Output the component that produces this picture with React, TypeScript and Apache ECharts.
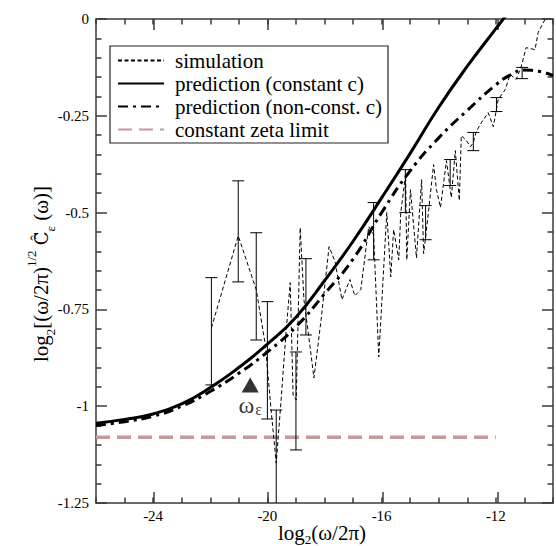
import React, { useEffect, useRef } from 'react';
import * as echarts from 'echarts';

const FONT = 'Liberation Serif';

// x-axis: log2(omega/2pi)
const xLabelValues = [-24, -20, -16, -12];

// simulation (dashed thin line)
const simX = [
  -21.96, -21.02, -20.39, -20.07, -19.87, -19.69, -19.52, -19.34, -19.2, -19.1,
  -18.99, -18.85, -18.72, -18.58, -18.37, -18.12, -17.84, -17.63, -17.39, -17.11,
  -16.94, -16.73, -16.45, -16.28, -16.1, -15.82, -15.68, -15.58, -15.4, -15.33,
  -15.16, -15.12, -14.99, -14.78, -14.6, -14.53, -14.39, -14.18, -14.08, -13.94,
  -13.73, -13.56, -13.42, -13.28, -13.21, -13.03, -12.89, -12.79, -12.69, -12.51,
  -12.27, -12.09, -11.92, -11.67, -11.5, -11.29, -11.12, -10.94, -10.63, -10.52,
  -10.28, -10.11,
];
const simY = [
  -0.798, -0.56, -0.699, -0.842, -1.01, -1.147, -0.984, -0.803, -0.681, -0.971,
  -0.984, -0.539, -0.725, -0.803, -0.927, -0.777, -0.588, -0.627, -0.725, -0.673,
  -0.715, -0.699, -0.536, -0.557, -0.873, -0.5, -0.666, -0.544, -0.622, -0.5,
  -0.402, -0.622, -0.441, -0.617, -0.415, -0.606, -0.518, -0.376, -0.441, -0.487,
  -0.366, -0.461, -0.34, -0.469, -0.301, -0.314, -0.33, -0.319, -0.291, -0.268,
  -0.242, -0.278, -0.208, -0.182, -0.143, -0.156, -0.125, -0.074, -0.079, -0.035,
  -0.001, 0.037,
];

// error bars of the simulation
const errX = [-21.96, -21.02, -20.39, -20.0, -19.69, -19.0, -18.65, -16.28, -15.17, -14.46, -13.6, -12.79, -11.98, -11.08];
const errLow = [-0.945, -0.679, -0.829, -1.033, -1.27, -1.113, -0.816, -0.622, -0.5, -0.57, -0.43, -0.34, -0.239, -0.154];
const errHigh = [-0.668, -0.418, -0.552, -0.73, -1.01, -0.86, -0.619, -0.474, -0.389, -0.482, -0.363, -0.293, -0.203, -0.125];

// prediction (constant c)
const constX = [-26, -25, -24, -23, -22, -21, -20, -19, -18, -17, -16, -15, -14, -13, -12, -11.5, -11];
const constY = [-1.044, -1.034, -1.02, -0.994, -0.952, -0.9, -0.84, -0.77, -0.676, -0.574, -0.462, -0.347, -0.228, -0.122, -0.025, 0.023, 0.07];

// prediction (non-const. c)
const nonConstX = [-26, -25, -24, -23, -22, -21, -20, -19, -18, -17, -16, -15, -14, -13, -12, -11.5, -11, -10.5, -10];
const nonConstY = [-1.05, -1.04, -1.026, -1.0, -0.962, -0.915, -0.86, -0.795, -0.71, -0.62, -0.5, -0.392, -0.307, -0.236, -0.17, -0.145, -0.132, -0.135, -0.146];

// constant zeta limit
const zetaX = [-26, -12];
const zetaY = [-1.08, -1.08];

// omega_epsilon marker
const markerX = [-20.6];
const markerY = [-0.945];

const zip = (a: number[], b: number[]) => a.map((v, i) => [v, b[i]]);

const AX = '#3a3a3a';

export default function App() {
  const ref = useRef<HTMLDivElement>(null);
  useEffect(() => {
    const chart = echarts.init(ref.current!, null, { renderer: 'svg' });
    const lineCommon = { color: AX, width: 1.5 };
    const gridRect = { left: 96, top: 19, right: 1, bottom: 43, containLabel: false };
    const baseX = { type: 'value', min: -26, max: -10, splitLine: { show: false } };
    const baseY = { type: 'value', min: -1.25, max: 0, interval: 0.25, splitLine: { show: false } };
    const option: any = {
      animation: false,
      backgroundColor: '#fff',
      textStyle: { fontFamily: FONT },
      grid: [gridRect, { ...gridRect }],
      xAxis: [
        {
          ...baseX,
          gridIndex: 0,
          position: 'bottom',
          interval: 1,
          axisLine: { show: true, onZero: false, lineStyle: lineCommon },
          axisTick: { show: true, inside: true, length: 5.5, lineStyle: lineCommon },
          axisLabel: {
            show: true,
            margin: 5,
            color: '#000',
            fontFamily: FONT,
            fontSize: 15,
            formatter: (v: number) => (xLabelValues.includes(v) ? String(v) : ''),
          },
        },
        {
          ...baseX,
          gridIndex: 0,
          position: 'top',
          interval: 1,
          axisLine: { show: true, onZero: false, lineStyle: lineCommon },
          axisTick: { show: true, inside: true, length: 5.5, lineStyle: lineCommon },
          axisLabel: { show: false },
        },
        {
          ...baseX,
          gridIndex: 1,
          position: 'bottom',
          axisLine: { show: false, onZero: false },
          axisTick: { show: true, inside: true, length: 11, lineStyle: lineCommon, customValues: xLabelValues },
          axisLabel: { show: false },
        },
        {
          ...baseX,
          gridIndex: 1,
          position: 'top',
          axisLine: { show: false, onZero: false },
          axisTick: { show: true, inside: true, length: 11, lineStyle: lineCommon, customValues: xLabelValues },
          axisLabel: { show: false },
        },
      ],
      yAxis: [
        {
          ...baseY,
          gridIndex: 0,
          position: 'left',
          axisLine: { show: true, onZero: false, lineStyle: lineCommon },
          axisTick: { show: true, inside: true, length: 11, lineStyle: lineCommon },
          minorTick: { show: true, splitNumber: 5, length: 5.5, lineStyle: lineCommon },
          axisLabel: { color: '#000', fontFamily: FONT, fontSize: 15, margin: 7 },
        },
        {
          ...baseY,
          gridIndex: 0,
          position: 'right',
          axisLine: { show: true, onZero: false, lineStyle: lineCommon },
          axisTick: { show: true, inside: true, length: 11, lineStyle: lineCommon },
          minorTick: { show: true, splitNumber: 5, length: 5.5, lineStyle: lineCommon },
          axisLabel: { show: false },
        },
        {
          ...baseY,
          gridIndex: 1,
          position: 'left',
          show: false,
        },
      ],
      legend: {
        orient: 'vertical',
        left: 110,
        top: 46,
        itemWidth: 46,
        itemHeight: 14,
        itemGap: 0,
        selectedMode: false,
        backgroundColor: '#fff',
        borderColor: '#222',
        borderWidth: 1.2,
        borderRadius: 0,
        padding: [3, 6, 2, 7],
        itemStyle: { opacity: 0 },
        textStyle: { fontFamily: FONT, fontSize: 21, color: '#000', lineHeight: 23, padding: [0, 0, 0, 6] },
        data: ['simulation', 'prediction (constant c)', 'prediction (non-const. c)', 'constant zeta limit'],
      },
      graphic: [
        {
          type: 'text',
          x: 41,
          y: 274,
          rotation: Math.PI / 2,
          style: {
            text: '{n|log}{s|2}{n|[(ω/2π)}{p|1/2}{n| }{c|C\u0302\u0303}{s|ε}{n| (ω)]}',
            align: 'center',
            verticalAlign: 'middle',
            fill: '#000',
            rich: {
              n: { fontFamily: FONT, fontSize: 21, lineHeight: 32, fill: '#000', verticalAlign: 'middle' },
              c: { fontFamily: 'DejaVu Serif', fontSize: 18, lineHeight: 32, fill: '#000', verticalAlign: 'middle' },
              s: { fontFamily: FONT, fontSize: 13, lineHeight: 13, fill: '#000', verticalAlign: 'bottom' },
              p: { fontFamily: FONT, fontSize: 13, lineHeight: 13, fill: '#000', verticalAlign: 'top' },
            },
          },
        },
        {
          type: 'text',
          x: 322,
          y: 533,
          style: {
            text: '{n|log}{s|2}{n|(ω/2π)}',
            align: 'center',
            verticalAlign: 'middle',
            fill: '#000',
            rich: {
              n: { fontFamily: FONT, fontSize: 21, lineHeight: 26, fill: '#000', verticalAlign: 'middle' },
              s: { fontFamily: FONT, fontSize: 13, lineHeight: 13, fill: '#000', verticalAlign: 'bottom' },
            },
          },
        },
      ],
      series: [
        {
          name: 'simulation',
          type: 'line',
          data: zip(simX, simY),
          showSymbol: false,
          symbol: 'none',
          lineStyle: { color: '#000', width: 1, type: [4, 2.5] },
          itemStyle: { color: '#000' },
          z: 3,
        },
        {
          name: 'prediction (constant c)',
          type: 'line',
          data: zip(constX, constY),
          smooth: 0.5,
          showSymbol: false,
          symbol: 'none',
          lineStyle: { color: '#000', width: 3 },
          itemStyle: { color: '#000' },
          z: 4,
        },
        {
          name: 'prediction (non-const. c)',
          type: 'line',
          data: zip(nonConstX, nonConstY),
          smooth: 0.5,
          showSymbol: false,
          symbol: 'none',
          lineStyle: { color: '#000', width: 3, type: [10, 5, 3, 5] },
          itemStyle: { color: '#000' },
          z: 4,
        },
        {
          name: 'constant zeta limit',
          type: 'line',
          data: zip(zetaX, zetaY),
          showSymbol: false,
          symbol: 'none',
          lineStyle: { color: '#c49a9a', width: 3.5, type: [14, 7] },
          itemStyle: { color: '#c49a9a' },
          z: 2,
        },
        {
          name: 'errorbars',
          type: 'custom',
          clip: true,
          data: errX.map((x, i) => [x, errLow[i], errHigh[i]]),
          encode: { x: 0, y: [1, 2] },
          renderItem: (params: any, api: any) => {
            const x = api.value(0);
            const lo = api.coord([x, api.value(1)]);
            const hi = api.coord([x, api.value(2)]);
            const w = 6;
            const st = { stroke: '#000', lineWidth: 1 };
            return {
              type: 'group',
              children: [
                { type: 'line', shape: { x1: lo[0], y1: lo[1], x2: hi[0], y2: hi[1] }, style: st },
                { type: 'line', shape: { x1: lo[0] - w, y1: lo[1], x2: lo[0] + w, y2: lo[1] }, style: st },
                { type: 'line', shape: { x1: hi[0] - w, y1: hi[1], x2: hi[0] + w, y2: hi[1] }, style: st },
              ],
            };
          },
          z: 3,
        },
        {
          name: 'omega_eps',
          type: 'scatter',
          data: zip(markerX, markerY),
          symbol: 'triangle',
          symbolSize: [17, 15],
          itemStyle: { color: '#000' },
          label: {
            show: true,
            position: 'bottom',
            distance: 1,
            formatter: '{w|ω}{e|ε}',
            rich: {
              w: { fontFamily: FONT, fontSize: 24, lineHeight: 24, color: '#000', verticalAlign: 'top' },
              e: { fontFamily: FONT, fontSize: 16, lineHeight: 16, color: '#000', verticalAlign: 'bottom', padding: [22, 0, 0, 1] },
            },
          },
          z: 5,
        },
      ],
    };
    chart.setOption(option);
    return () => chart.dispose();
  }, []);
  return (
    <div
      ref={ref}
      style={{ position: 'fixed', left: 0, top: 0, width: 556, height: 546, background: '#fff' }}
    />
  );
}
